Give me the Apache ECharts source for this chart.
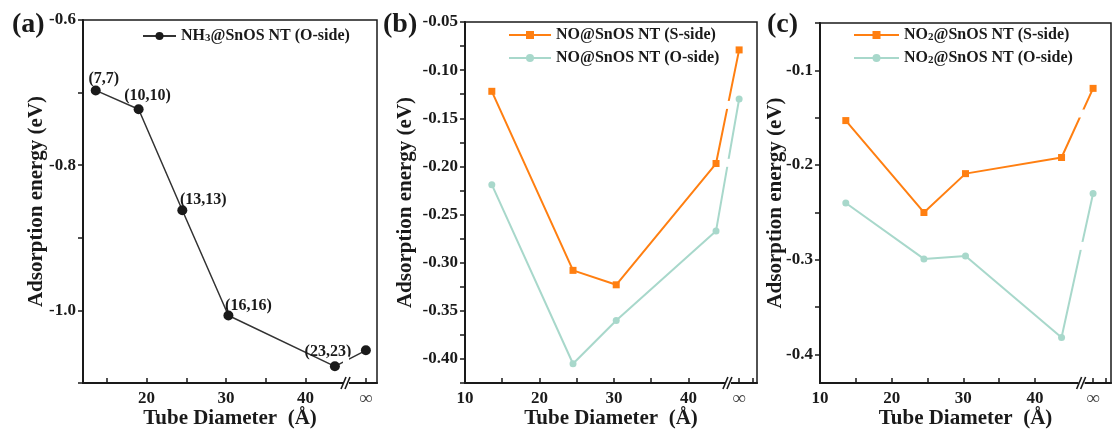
<!DOCTYPE html>
<html lang="en">
<head>
<meta charset="UTF-8">
<title>SnOS NT adsorption energy</title>
<script src="https://cdn.jsdelivr.net/npm/echarts@6/dist/echarts.min.js"></script>
<style>
  html, body { margin: 0; padding: 0; background: #fff; }
  #main { width: 1113px; height: 434px; }
</style>
</head>
<body>
<div id="main"></div>
<script>
  // tube diameters (Å) for (7,7) (10,10) (13,13) (16,16) (23,23)
  const diamA = [13.6, 19.0, 24.5, 30.3, 43.7];
  const diamBC = [13.6, 24.5, 30.3, 43.7];
  const chirality = ['(7,7)', '(10,10)', '(13,13)', '(16,16)', '(23,23)'];

  // position of the "infinite" point and of the axis break, per panel
  const infA = 47.6, infB = 46.8, infC = 48.1;
  const breakA = 45.1, breakB = 45.3, breakC = 46.5;

  // adsorption energies (eV), last value = infinite diameter
  const nh3O = [-0.697, -0.723, -0.862, -1.007, -1.077, -1.055];
  const noS = [-0.122, -0.308, -0.323, -0.197, -0.079];
  const noO = [-0.219, -0.405, -0.360, -0.267, -0.130];
  const no2S = [-0.153, -0.250, -0.209, -0.192, -0.119];
  const no2O = [-0.240, -0.299, -0.296, -0.382, -0.230];

  // ticks and labels
  const xTicks = [15, 20, 25, 30, 35, 40];
  const xLabels = [10, 20, 30, 40];
  const yLabelsA = [-1.0, -0.8, -0.6];
  const yTicksA = [-1.1, -1.0, -0.9, -0.8, -0.7, -0.6];
  const yLabelsB = [-0.40, -0.35, -0.30, -0.25, -0.20, -0.15, -0.10, -0.05];
  const yTicksB = [-0.425, -0.40, -0.375, -0.35, -0.325, -0.30, -0.275, -0.25, -0.225,
                   -0.20, -0.175, -0.15, -0.125, -0.10, -0.075, -0.05];
  const yLabelsC = [-0.4, -0.3, -0.2, -0.1];
  const yTicksC = [-0.4, -0.35, -0.3, -0.25, -0.2, -0.15, -0.1, -0.05];

  const FONT = "'Liberation Serif', 'Times New Roman', serif";
  const ORANGE = '#ff7f11';
  const TEAL = '#a8d8cb';
  const INK = '#1a1a1a';

  const chart = echarts.init(document.getElementById('main'));

  function xAxisFor(grid, min, max, inf, extraTick) {
    const ticks = xTicks.concat([inf]);
    if (extraTick) ticks.push(extraTick);
    return {
      type: 'value', gridIndex: grid, min: min, max: max,
      splitLine: { show: false },
      axisLine: { lineStyle: { color: INK, width: 2 } },
      axisTick: { inside: true, length: 5, customValues: ticks, lineStyle: { color: INK, width: 1.5 } },
      axisLabel: {
        customValues: xLabels.filter(v => v >= min).concat([inf]),
        margin: 7, color: INK, fontFamily: FONT, fontWeight: 'bold', fontSize: 17,
        formatter: v => (v === inf ? '{inf|∞}' : String(v)),
        rich: { inf: { fontFamily: FONT, fontSize: 19, color: '#444', fontWeight: 'normal' } }
      },
      name: 'Tube Diameter  (Å)', nameLocation: 'middle', nameGap: 25, nameMoveOverlap: false,
      nameTextStyle: { fontFamily: FONT, fontWeight: 'bold', fontSize: 21, color: INK }
    };
  }

  function yAxisFor(grid, min, max, labels, ticks, digits, gap) {
    return {
      type: 'value', gridIndex: grid, min: min, max: max,
      splitLine: { show: false },
      axisLine: { show: true, lineStyle: { color: INK, width: 2 } },
      axisTick: { show: true, length: 5, customValues: ticks, lineStyle: { color: INK, width: 1.5 } },
      axisLabel: {
        customValues: labels, margin: 7, color: INK,
        fontFamily: FONT, fontWeight: 'bold', fontSize: 17,
        formatter: v => v.toFixed(digits)
      },
      name: 'Adsorption energy (eV)', nameLocation: 'middle', nameGap: gap, nameMoveOverlap: false,
      nameTextStyle: { fontFamily: FONT, fontWeight: 'bold', fontSize: 21, color: INK }
    };
  }

  const pairs = (xs, ys) => xs.map((x, i) => [x, ys[i]]);

  // offsets of the chirality labels from the top of each point
  const labelOffsets = [[8, 6], [9, 5], [21, 8], [20, 8], [-7, 4]];

  const legendText = {
    fontFamily: FONT, fontWeight: 'bold', fontSize: 16, color: INK,
    rich: { s: { fontFamily: FONT, fontWeight: 'bold', fontSize: 11, color: INK, padding: [5, 0, 0, 0] } }
  };
  const subFormat = name => name.replace(/([A-Z])(\d)/, '$1{s|$2}');

  const seriesA = pairs(diamA.concat([infA]), nh3O);
  const seriesNoS = pairs(diamBC.concat([infB]), noS);
  const seriesNoO = pairs(diamBC.concat([infB]), noO);
  const seriesNo2S = pairs(diamBC.concat([infC]), no2S);
  const seriesNo2O = pairs(diamBC.concat([infC]), no2O);

  const option = {
    backgroundColor: '#fff',
    animation: false,
    title: [
      { text: '(a)', left: 7, top: 6 },
      { text: '(b)', left: 378, top: 6 },
      { text: '(c)', left: 762, top: 6 }
    ].map(t => Object.assign(t, { textStyle: { fontFamily: FONT, fontWeight: 'bold', fontSize: 28, color: INK } })),
    grid: [
      { left: 83, top: 20, right: 736, bottom: 51 },
      { left: 465, top: 22, right: 356, bottom: 51 },
      { left: 820, top: 23, right: 2, bottom: 51 }
    ].map(g => Object.assign(g, { show: true, borderColor: INK, borderWidth: 1.5, containLabel: false })),
    legend: [
      { data: ['NH3@SnOS NT (O-side)'], left: 142, top: 28, padding: 0, itemWidth: 33, itemHeight: 10,
        textStyle: legendText, formatter: subFormat },
      { data: ['NO@SnOS NT (S-side)', 'NO@SnOS NT (O-side)'], left: 503, top: 22, orient: 'vertical',
        itemWidth: 42, itemHeight: 10, itemGap: 7, textStyle: legendText, formatter: subFormat },
      { data: ['NO2@SnOS NT (S-side)', 'NO2@SnOS NT (O-side)'], left: 853, top: 27, padding: 0, orient: 'vertical',
        itemWidth: 45, itemHeight: 10, itemGap: 7, textStyle: legendText, formatter: subFormat }
    ],
    xAxis: [
      xAxisFor(0, 12, 49, infA),
      xAxisFor(1, 10, 49.2, infB, 48.6),
      xAxisFor(2, 10, 50.6, infC, 49.8)
    ],
    yAxis: [
      yAxisFor(0, -1.1, -0.6, yLabelsA, yTicksA, 1, 36),
      yAxisFor(1, -0.425, -0.05, yLabelsB, yTicksB, 2, 49),
      yAxisFor(2, -0.43, -0.05, yLabelsC, yTicksC, 1, 34)
    ],
    series: [
      {
        name: 'NH3@SnOS NT (O-side)', type: 'line', xAxisIndex: 0, yAxisIndex: 0,
        symbol: 'circle', symbolSize: 10,
        itemStyle: { color: INK }, lineStyle: { color: '#333', width: 1.5 },
        data: seriesA.map((p, i) => ({
          value: p,
          label: i < chirality.length
            ? { show: true, position: 'top', offset: labelOffsets[i], formatter: chirality[i] }
            : { show: false }
        })),
        label: { fontFamily: FONT, fontWeight: 'bold', fontSize: 16, color: INK }
      },
      {
        name: 'NO@SnOS NT (S-side)', type: 'line', xAxisIndex: 1, yAxisIndex: 1,
        symbol: 'rect', symbolSize: 7, itemStyle: { color: ORANGE }, lineStyle: { color: ORANGE, width: 2 },
        data: seriesNoS
      },
      {
        name: 'NO@SnOS NT (O-side)', type: 'line', xAxisIndex: 1, yAxisIndex: 1,
        symbol: 'circle', symbolSize: 7, itemStyle: { color: TEAL }, lineStyle: { color: TEAL, width: 2 },
        data: seriesNoO
      },
      {
        name: 'NO2@SnOS NT (S-side)', type: 'line', xAxisIndex: 2, yAxisIndex: 2,
        symbol: 'rect', symbolSize: 7, itemStyle: { color: ORANGE }, lineStyle: { color: ORANGE, width: 2 },
        data: seriesNo2S
      },
      {
        name: 'NO2@SnOS NT (O-side)', type: 'line', xAxisIndex: 2, yAxisIndex: 2,
        symbol: 'circle', symbolSize: 7, itemStyle: { color: TEAL }, lineStyle: { color: TEAL, width: 2 },
        data: seriesNo2O
      }
    ]
  };

  chart.setOption(option);

  // axis break "//": small white gaps where lines cross the break, plus slashes on the x axis
  const breaks = [
    [0, breakA, -1.1, [seriesA]],
    [1, breakB, -0.425, [seriesNoS, seriesNoO]],
    [2, breakC, -0.43, [seriesNo2S, seriesNo2O]]
  ];
  const graphics = [];
  breaks.forEach(([g, bx, y0, lines]) => {
    const base = chart.convertToPixel({ gridIndex: g }, [bx, y0]);
    const x = base[0], yb = base[1];
    lines.forEach(pts => {
      const a = pts[pts.length - 2], b = pts[pts.length - 1];
      const yv = a[1] + (b[1] - a[1]) * (bx - a[0]) / (b[0] - a[0]);
      const p = chart.convertToPixel({ gridIndex: g }, [bx, yv]);
      graphics.push({
        type: 'rect', z: 100, silent: true,
        shape: { x: p[0] - 3, y: p[1] - 4, width: 6, height: 8 },
        style: { fill: '#fff' }
      });
    });
    graphics.push({
      type: 'rect', z: 100, silent: true,
      shape: { x: x - 3, y: yb - 2, width: 6, height: 4 },
      style: { fill: '#fff' }
    });
    [-2.5, 1.5].forEach(dx => graphics.push({
      type: 'line', z: 101, silent: true,
      shape: { x1: x + dx - 2.5, y1: yb + 6, x2: x + dx + 2.5, y2: yb - 6 },
      style: { stroke: INK, lineWidth: 1.6 }
    }));
  });
  chart.setOption({ graphic: graphics });
</script>
</body>
</html>
